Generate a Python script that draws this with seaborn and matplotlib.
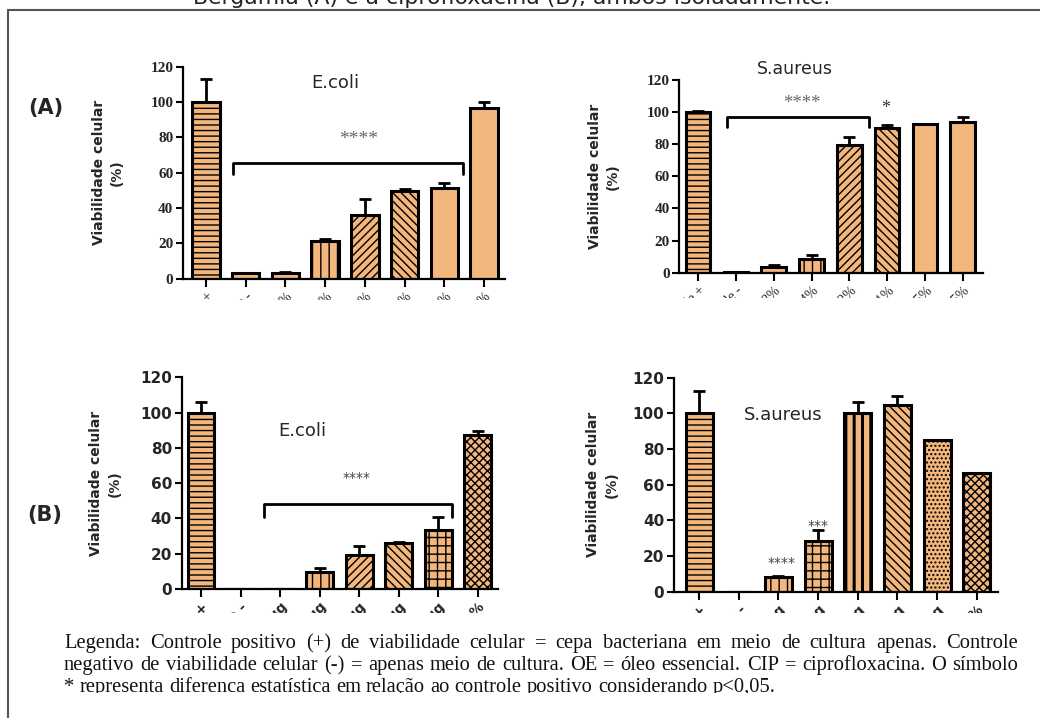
import numpy as np
import matplotlib
matplotlib.use('Agg')
import matplotlib.pyplot as plt
import seaborn as sns
from matplotlib.lines import Line2D
from matplotlib.transforms import Bbox, TransformedBbox

# ---- data ----
oe_ecoli_labels = ['Controle +', 'Controle -', 'OE 0,0488%', 'OE 0,0976%', 'OE 0,195%',
                   'OE 0,39%', 'OE 0,78%', 'OE 1,56%']
oe_ecoli_vals = [100, 3.0, 3.4, 21.3, 36.0, 49.6, 51.5, 96.4]
oe_ecoli_err = [13.0, 0.3, 0.5, 1.3, 9.0, 1.4, 2.8, 3.8]

oe_sa_labels = ['Controle +', 'Controle -', 'OE 0,0488%', 'OE 0,0244%', 'OE 0,0122%',
                'OE 0,0061%', 'OE 0,0015%', 'OE 0,0005%']
oe_sa_vals = [100, 0.3, 3.7, 8.7, 79.3, 90.1, 92.4, 93.6]
oe_sa_err = [0.8, 0.0, 0.8, 2.1, 5.2, 1.7, 0.4, 3.4]

cip_ecoli_labels = ['Controle +', 'Controle -', 'CIP 0,25 ug', 'CIP 0,5 ug', 'CIP 1 ug',
                    'CIP 2 ug', 'CIP 4 ug', 'OE 1%']
cip_ecoli_vals = [100, 0, 0, 9.8, 19.3, 26.3, 33.4, 87.3]
cip_ecoli_err = [5.8, 0, 0, 2.3, 5.1, 0.3, 7.6, 2.3]

cip_sa_labels = ['Controle +', 'Controle -', 'CIP 0,25 ug', 'CIP 0,5 ug', 'CIP 1 ug',
                 'CIP 2 ug', 'CIP 4 ug', 'OE 1%']
cip_sa_vals = [100, 0, 8.4, 28.4, 100.4, 104.5, 84.9, 66.4]
cip_sa_err = [12.6, 0, 0.4, 6.0, 5.8, 5.1, 0, 0.2]

header = 'Bergamia (A) e a ciprofloxacina (B), ambos isoladamente.'
legend_lines = [
    'Legenda: Controle positivo (+) de viabilidade celular = cepa bacteriana em meio de cultura apenas. Controle',
    'negativo de viabilidade celular (-) = apenas meio de cultura. OE = óleo essencial. CIP = ciprofloxacina. O símbolo',
    '* representa diferenca estatística em relação ao controle positivo considerando p<0,05.',
]

BAR = '#F3B67C'
W, H = 1040, 718

sns.set_theme(style='ticks')
plt.rcParams['font.family'] = ['DejaVu Sans']
plt.rcParams['hatch.linewidth'] = 1.0

fig = plt.figure(figsize=(W / 100, H / 100), dpi=100)


def px_axes(left, right, top, bottom):
    return fig.add_axes([left / W, 1 - bottom / H, (right - left) / W, (bottom - top) / H])


def draw_panel(ax, labels, vals, errs, hatches, xlim, width, serif, ylab_x):
    sns.barplot(x=labels, y=vals, color=BAR, saturation=1, edgecolor='black',
                linewidth=2.2, width=width, errorbar=None, ax=ax)
    for p, h in zip(ax.patches, hatches):
        p.set_hatch(h)
    ax.errorbar(range(len(vals)), vals, yerr=[np.zeros(len(errs)), errs], fmt='none',
                ecolor='black', elinewidth=2, capsize=4, capthick=2, zorder=3)
    ax.set_ylim(0, 120)
    ax.set_xlim(*xlim)
    ax.set_yticks(range(0, 121, 20))
    sns.despine(ax=ax)
    for s in ['left', 'bottom']:
        ax.spines[s].set_linewidth(1.6)
        ax.spines[s].set_color('black')
    ax.tick_params(axis='both', length=5, width=1.5, color='black', pad=2)
    ax.tick_params(axis='x', length=6)
    if serif:
        yfont = dict(family='Liberation Serif', fontsize=11, fontweight='bold')
        xfont = dict(family='Liberation Serif', fontsize=10)
    else:
        yfont = dict(family='DejaVu Sans', fontsize=11, fontweight='bold')
        xfont = dict(family='DejaVu Sans', fontsize=10, fontweight='bold')
    ax.set_yticklabels([str(v) for v in range(0, 121, 20)], **yfont)
    ax.set_xticks(range(len(labels)))
    ax.set_xticklabels(labels, rotation=45, ha='right', rotation_mode='anchor', **xfont)
    ax.set_xlabel('')
    ax.set_ylabel('Viabilidade celular\n(%)', fontsize=10, fontweight='bold',
                  family='DejaVu Sans', linespacing=1.4)
    ax.yaxis.set_label_coords(ylab_x, 0.5)
    ax.set_facecolor('none')


def bracket(ax, x0, x1, ylo, yhi):
    ax.plot([x0, x0, x1, x1], [ylo, yhi, yhi, ylo], color='black', lw=2, clip_on=False)


# (A) E.coli
ax1 = px_axes(183, 505, 66.7, 278.7)
draw_panel(ax1, oe_ecoli_labels, oe_ecoli_vals, oe_ecoli_err,
           ['---', '', '', '||', '////', '\\\\\\\\', '', ''], (-0.58, 7.53), 0.69, True, -0.183)
ax1.text(3.25, 110.8, 'E.coli', ha='center', va='center', fontsize=13)
ax1.text(3.83, 79.0, '****', ha='center', va='center', fontsize=14, color='#666666',
         family='Liberation Serif')
bracket(ax1, 0.68, 6.47, 59.4, 65.7)

# (A) S.aureus
ax2 = px_axes(679.3, 982.7, 80, 272.7)
draw_panel(ax2, oe_sa_labels, oe_sa_vals, oe_sa_err,
           ['---', '', '', '||', '////', '\\\\\\\\', '', ''], (-0.5, 7.53), 0.65, True, -0.195)
ax2.text(2.56, 126.6, 'S.aureus', ha='center', va='center', fontsize=12.5, clip_on=False)
ax2.text(2.74, 105.5, '****', ha='center', va='center', fontsize=13.5, color='#666666',
         family='Liberation Serif')
ax2.text(4.96, 102.5, '*', ha='center', va='center', fontsize=13, color='#333333',
         family='Liberation Serif')
bracket(ax2, 0.75, 4.51, 90.5, 96.8)

# (B) E.coli
ax3 = px_axes(181.7, 498.3, 377.3, 589)
draw_panel(ax3, cip_ecoli_labels, cip_ecoli_vals, cip_ecoli_err,
           ['---', '', '', '||', '////', '\\\\\\\\', '++', 'xxxx'], (-0.49, 7.52), 0.675, False, -0.19)
ax3.text(2.55, 89.7, 'E.coli', ha='center', va='center', fontsize=13)
ax3.text(3.94, 63.0, '****', ha='center', va='center', fontsize=10, color='#444444')
bracket(ax3, 1.6, 6.36, 41.0, 48.2)

# (B) S.aureus
ax4 = px_axes(674, 998.3, 377.7, 591.7)
draw_panel(ax4, cip_sa_labels, cip_sa_vals, cip_sa_err,
           ['---', '', '||', '++', '||', '\\\\\\\\', '....', 'xxxx'], (-0.63, 7.54), 0.68, False, -0.17)
ax4.text(2.12, 99.1, 'S.aureus', ha='center', va='center', fontsize=13)
ax4.text(2.08, 16.0, '****', ha='center', va='center', fontsize=10, color='#444444')
ax4.text(2.99, 37.0, '***', ha='center', va='center', fontsize=10, color='#444444')
if hasattr(ax4.patches[4], 'set_hatch_linewidth'):
    ax4.patches[4].set_hatch_linewidth(2.2)

# panel letters
fig.text(46 / W, 1 - 108 / H, '(A)', ha='center', va='center', fontsize=15, fontweight='bold')
fig.text(45 / W, 1 - 515 / H, '(B)', ha='center', va='center', fontsize=15, fontweight='bold')

# caption above (cut by the canvas edge) and frame lines
fig.text(512 / W, 1 - 4 / H, header, ha='center', va='baseline', fontsize=15.8, color='#222222')
fig.add_artist(Line2D([8 / W, 1], [1 - 10 / H, 1 - 10 / H], transform=fig.transFigure,
                      color='#555555', lw=1.5))
fig.add_artist(Line2D([8 / W, 8 / W], [0, 1 - 10 / H], transform=fig.transFigure,
                      color='#555555', lw=1.5))

renderer = fig.canvas.get_renderer()
fig.canvas.draw()

# the rotated tick labels are cut off just under each panel
for ax, ycut in [(ax1, 300), (ax2, 298), (ax3, 613), (ax4, 613)]:
    box = TransformedBbox(Bbox([[0, 1 - ycut / H], [1, 1]]), fig.transFigure)
    for lab in ax.get_xticklabels():
        lab.set_clip_on(True)
        lab.set_clip_box(box)

# justified legend text
x0, x1 = 64, 1018
size = 16.0
while size > 9:
    t = fig.text(0, 0, legend_lines[1], fontsize=size, family='Liberation Serif')
    wdt = t.get_window_extent(renderer).width
    t.remove()
    if wdt <= x1 - x0:
        break
    size -= 0.25

cut_box = TransformedBbox(Bbox([[0, 1 - 693 / H], [1, 1]]), fig.transFigure)
for i, (line, ypx) in enumerate(zip(legend_lines, [648, 670, 692])):
    words = line.split(' ')
    texts = [fig.text(0, 1 - ypx / H, w, fontsize=size, family='Liberation Serif',
                      va='baseline', ha='left', color='#111111') for w in words]
    widths = [t.get_window_extent(renderer).width for t in texts]
    if i < 2:
        gap = (x1 - x0 - sum(widths)) / (len(words) - 1)
    else:
        gap = size * 1.389 * 0.25
        for t in texts:
            t.set_clip_on(True)
            t.set_clip_box(cut_box)
    x = x0
    for t, w in zip(texts, widths):
        t.set_x(x / W)
        x += w + gap

fig.savefig('out.png', dpi=100)
